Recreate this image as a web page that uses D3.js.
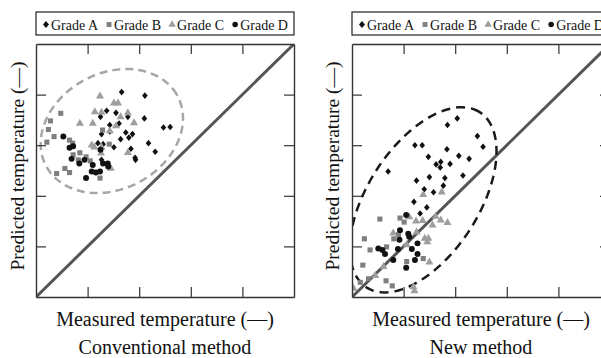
<!DOCTYPE html>
<html>
<head>
<meta charset="utf-8">
<script src="https://cdn.jsdelivr.net/npm/d3@7"></script>
<style>
  body { margin: 0; background: #fff; }
  text { font-family: "Liberation Serif", "Times New Roman", serif; fill: #111; }
</style>
</head>
<body>
<div id="chart"></div>
<script>
// grades shown in the legend
var grades = ["Grade A", "Grade B", "Grade C", "Grade D"];

// conventional method, [measured, predicted]
var convGradeA = [[1.66,4.05],[2.11,3.98],[1.37,3.68],[1.55,3.64],[1.25,3.56],[1.78,3.56],[2.10,3.53],[1.43,3.40],
    [1.61,3.43],[2.47,3.35],[2.60,3.36],[1.74,3.25],[1.87,3.22],[1.43,3.27],[1.64,3.12],[1.80,3.15],[1.27,3.22],
    [1.20,3.04],[1.30,3.02],[2.18,3.04],[1.51,2.96],[1.84,2.93],[2.31,2.87],[1.92,2.75],[1.93,2.71],[1.27,2.71]];
var convGradeB = [[0.48,3.63],[0.28,3.48],[0.24,3.31],[0.35,3.17],[0.21,3.06],[0.65,3.10],[0.71,3.04],[0.72,2.81],
    [0.85,2.85],[0.97,2.77],[0.82,2.71],[1.05,2.69],[0.56,2.54],[0.40,2.44],[0.65,2.46],[1.29,3.30],[1.42,3.02],[1.24,2.35]];
var convGradeC = [[1.24,3.97],[1.51,3.83],[1.59,3.83],[1.14,3.66],[1.27,3.65],[1.78,3.64],[1.64,3.56],[0.85,3.43],
    [1.10,3.43],[1.55,3.38],[1.90,3.44],[1.43,3.28],[1.08,3.00],[1.13,2.96],[1.27,2.96],[1.26,2.84],[1.78,2.85],[1.45,2.54]];
var convGradeD = [[0.53,3.17],[0.65,2.95],[0.72,2.98],[0.69,2.73],[0.84,2.64],[0.94,2.71],[1.10,2.61],[1.25,2.91],
    [1.30,2.64],[1.39,2.64],[1.40,2.58],[1.08,2.48],[1.16,2.46],[1.24,2.48],[0.97,2.35]];

// new method, [measured, predicted]
var newGradeA = [[2.04,3.53],[1.85,3.40],[2.43,3.18],[2.54,2.97],[1.22,3.00],[1.36,3.00],[1.84,2.92],[2.07,2.79],
    [1.48,2.77],[2.27,2.73],[1.63,2.62],[1.72,2.67],[1.71,2.56],[1.90,2.63],[0.70,2.48],[2.15,2.40],[1.50,2.37],
    [1.80,2.35],[1.25,2.30],[1.77,2.20],[1.40,2.13],[1.58,2.07],[1.20,1.88],[1.45,1.77],[1.32,1.65]];
var newGradeB = [[0.54,1.54],[0.93,1.56],[1.01,1.48],[0.24,1.15],[0.35,0.93],[0.67,0.99],[0.81,1.15],[0.90,1.23],
    [0.21,0.63],[1.06,0.70],[1.38,0.76],[0.16,0.29],[0.32,0.36],[0.66,0.32],[0.78,0.22]];
var newGradeC = [[1.38,2.02],[1.74,2.07],[1.11,1.58],[1.24,1.50],[1.37,1.51],[1.62,1.59],[1.72,1.52],[1.85,1.47],
    [1.56,1.42],[0.80,1.26],[1.25,1.28],[1.41,1.16],[1.48,1.16],[1.46,1.09],[1.06,1.03],[1.50,0.69],[0.61,0.60],
    [0.45,0.42],[1.19,0.20],[1.21,0.12],[0.03,0.17]];
var newGradeD = [[1.05,1.62],[0.93,1.32],[1.09,1.25],[0.92,1.13],[1.11,1.19],[1.27,1.06],[0.51,0.96],[0.59,0.93],
    [0.64,0.85],[0.89,0.95],[1.16,0.95],[0.80,0.73],[1.27,0.85],[1.22,0.73],[1.05,0.58]];

// grouping ellipses: centre, half axes, tilt (degrees) in data units
var convEllipse = [1.47, 3.28, 1.45, 1.14, 30];
var newEllipse = [1.38, 1.92, 2.05, 1.08, 58];

var xDomain = [0, 5], yDomain = [0, 5];
var tickValues = [1, 2, 3, 4];

var width = 601, height = 358;
var plotW = 258, plotH = 253, plotTop = 44;

var svg = d3.select("#chart").append("svg")
    .attr("width", width)
    .attr("height", height);

var symbolFor = {
    "Grade A": { type: d3.symbolDiamond2, size: 28, fill: "#111", sx: 0.85 },
    "Grade B": { type: d3.symbolSquare, size: 26, fill: "#7f7f7f", sx: 1 },
    "Grade C": { type: d3.symbolTriangle, size: 28, fill: "#9e9e9e", sx: 1 },
    "Grade D": { type: d3.symbolCircle, size: 28, fill: "#111", sx: 1 }
};

var panels = [
    { x0: 36, title: "Conventional method", sets: [convGradeA, convGradeB, convGradeC, convGradeD],
      ellipse: convEllipse, eColor: "#a6a6a6", eDash: "8,5", labelX: 24 },
    { x0: 352, title: "New method", sets: [newGradeA, newGradeB, newGradeC, newGradeD],
      ellipse: newEllipse, eColor: "#1a1a1a", eDash: "9,6", labelX: 339 }
];

panels.forEach(function(p, pi) {
    var x = d3.scaleLinear().domain(xDomain).range([p.x0, p.x0 + plotW]);
    var y = d3.scaleLinear().domain(yDomain).range([plotTop + plotH, plotTop]);
    var g = svg.append("g");

    g.append("clipPath").attr("id", "clip" + pi)
        .append("rect")
        .attr("x", p.x0).attr("y", plotTop)
        .attr("width", plotW).attr("height", plotH);

    var inner = g.append("g").attr("clip-path", "url(#clip" + pi + ")");

    // 1:1 line
    inner.append("line")
        .attr("x1", x(xDomain[0])).attr("y1", y(yDomain[0]))
        .attr("x2", x(xDomain[1])).attr("y2", y(yDomain[1]))
        .attr("stroke", "#555")
        .attr("stroke-width", 3);

    // dashed ellipse
    var e = p.ellipse, th = e[4] * Math.PI / 180;
    var pts = d3.range(0, 360, 3).map(function(t) {
        var a = t * Math.PI / 180;
        var u = e[2] * Math.cos(a), v = e[3] * Math.sin(a);
        return [e[0] + u * Math.cos(th) - v * Math.sin(th), e[1] + u * Math.sin(th) + v * Math.cos(th)];
    });
    inner.append("path")
        .datum(pts)
        .attr("d", d3.line().x(d => x(d[0])).y(d => y(d[1])).curve(d3.curveLinearClosed))
        .attr("fill", "none")
        .attr("stroke", p.eColor)
        .attr("stroke-width", 2.5)
        .attr("stroke-dasharray", p.eDash);

    // points
    p.sets.forEach(function(set, si) {
        var s = symbolFor[grades[si]];
        inner.selectAll(".pt" + si)
            .data(set)
            .enter().append("path")
            .attr("class", "pt" + si)
            .attr("d", d3.symbol().type(s.type).size(s.size))
            .attr("transform", d => "translate(" + x(d[0]) + "," + y(d[1]) + ") scale(" + s.sx + ",1)")
            .attr("fill", s.fill);
    });

    // frame with inward ticks on all four sides
    var axes = [
        [d3.axisBottom(x), "translate(0," + (plotTop + plotH) + ")"],
        [d3.axisTop(x), "translate(0," + plotTop + ")"],
        [d3.axisLeft(y), "translate(" + p.x0 + ",0)"],
        [d3.axisRight(y), "translate(" + (p.x0 + plotW) + ",0)"]
    ];
    axes.forEach(function(a) {
        var ax = g.append("g")
            .attr("transform", a[1])
            .call(a[0].tickValues(tickValues).tickSizeInner(-10).tickSizeOuter(0).tickFormat(""));
        ax.select(".domain").attr("stroke", "#333").attr("stroke-width", 1.4);
        ax.selectAll(".tick line").attr("stroke", "#333").attr("stroke-width", 1.2);
    });

    // legend box
    var lg = g.append("g").attr("transform", "translate(" + p.x0 + ",12)");
    lg.append("rect")
        .attr("width", plotW).attr("height", 23)
        .attr("fill", "none").attr("stroke", "#222").attr("stroke-width", 1.2);
    var cursor = 10;
    grades.forEach(function(gr) {
        var s = symbolFor[gr];
        lg.append("path")
            .attr("d", d3.symbol().type(s.type).size(gr === "Grade A" ? 32 : 24))
            .attr("transform", "translate(" + cursor + ",12.5) scale(" + s.sx + ",1)")
            .attr("fill", s.fill);
        var t = lg.append("text")
            .attr("x", cursor + 5)
            .attr("y", 17.5)
            .style("font-size", "14px")
            .text(gr);
        cursor += 5 + t.node().getComputedTextLength() + 11;
    });

    // axis titles
    var cx = p.x0 + plotW / 2;
    g.append("text")
        .attr("x", cx).attr("y", 326)
        .attr("text-anchor", "middle")
        .style("font-size", "20px")
        .text("Measured temperature (\u2014)");
    g.append("text")
        .attr("x", cx).attr("y", 354)
        .attr("text-anchor", "middle")
        .style("font-size", "20px")
        .text(p.title);
    g.append("text")
        .attr("transform", "translate(" + p.labelX + "," + 166 + ") rotate(-90)")
        .attr("text-anchor", "middle")
        .style("font-size", "19.5px")
        .text("Predicted temperature (\u2014)");
});
</script>
</body>
</html>
